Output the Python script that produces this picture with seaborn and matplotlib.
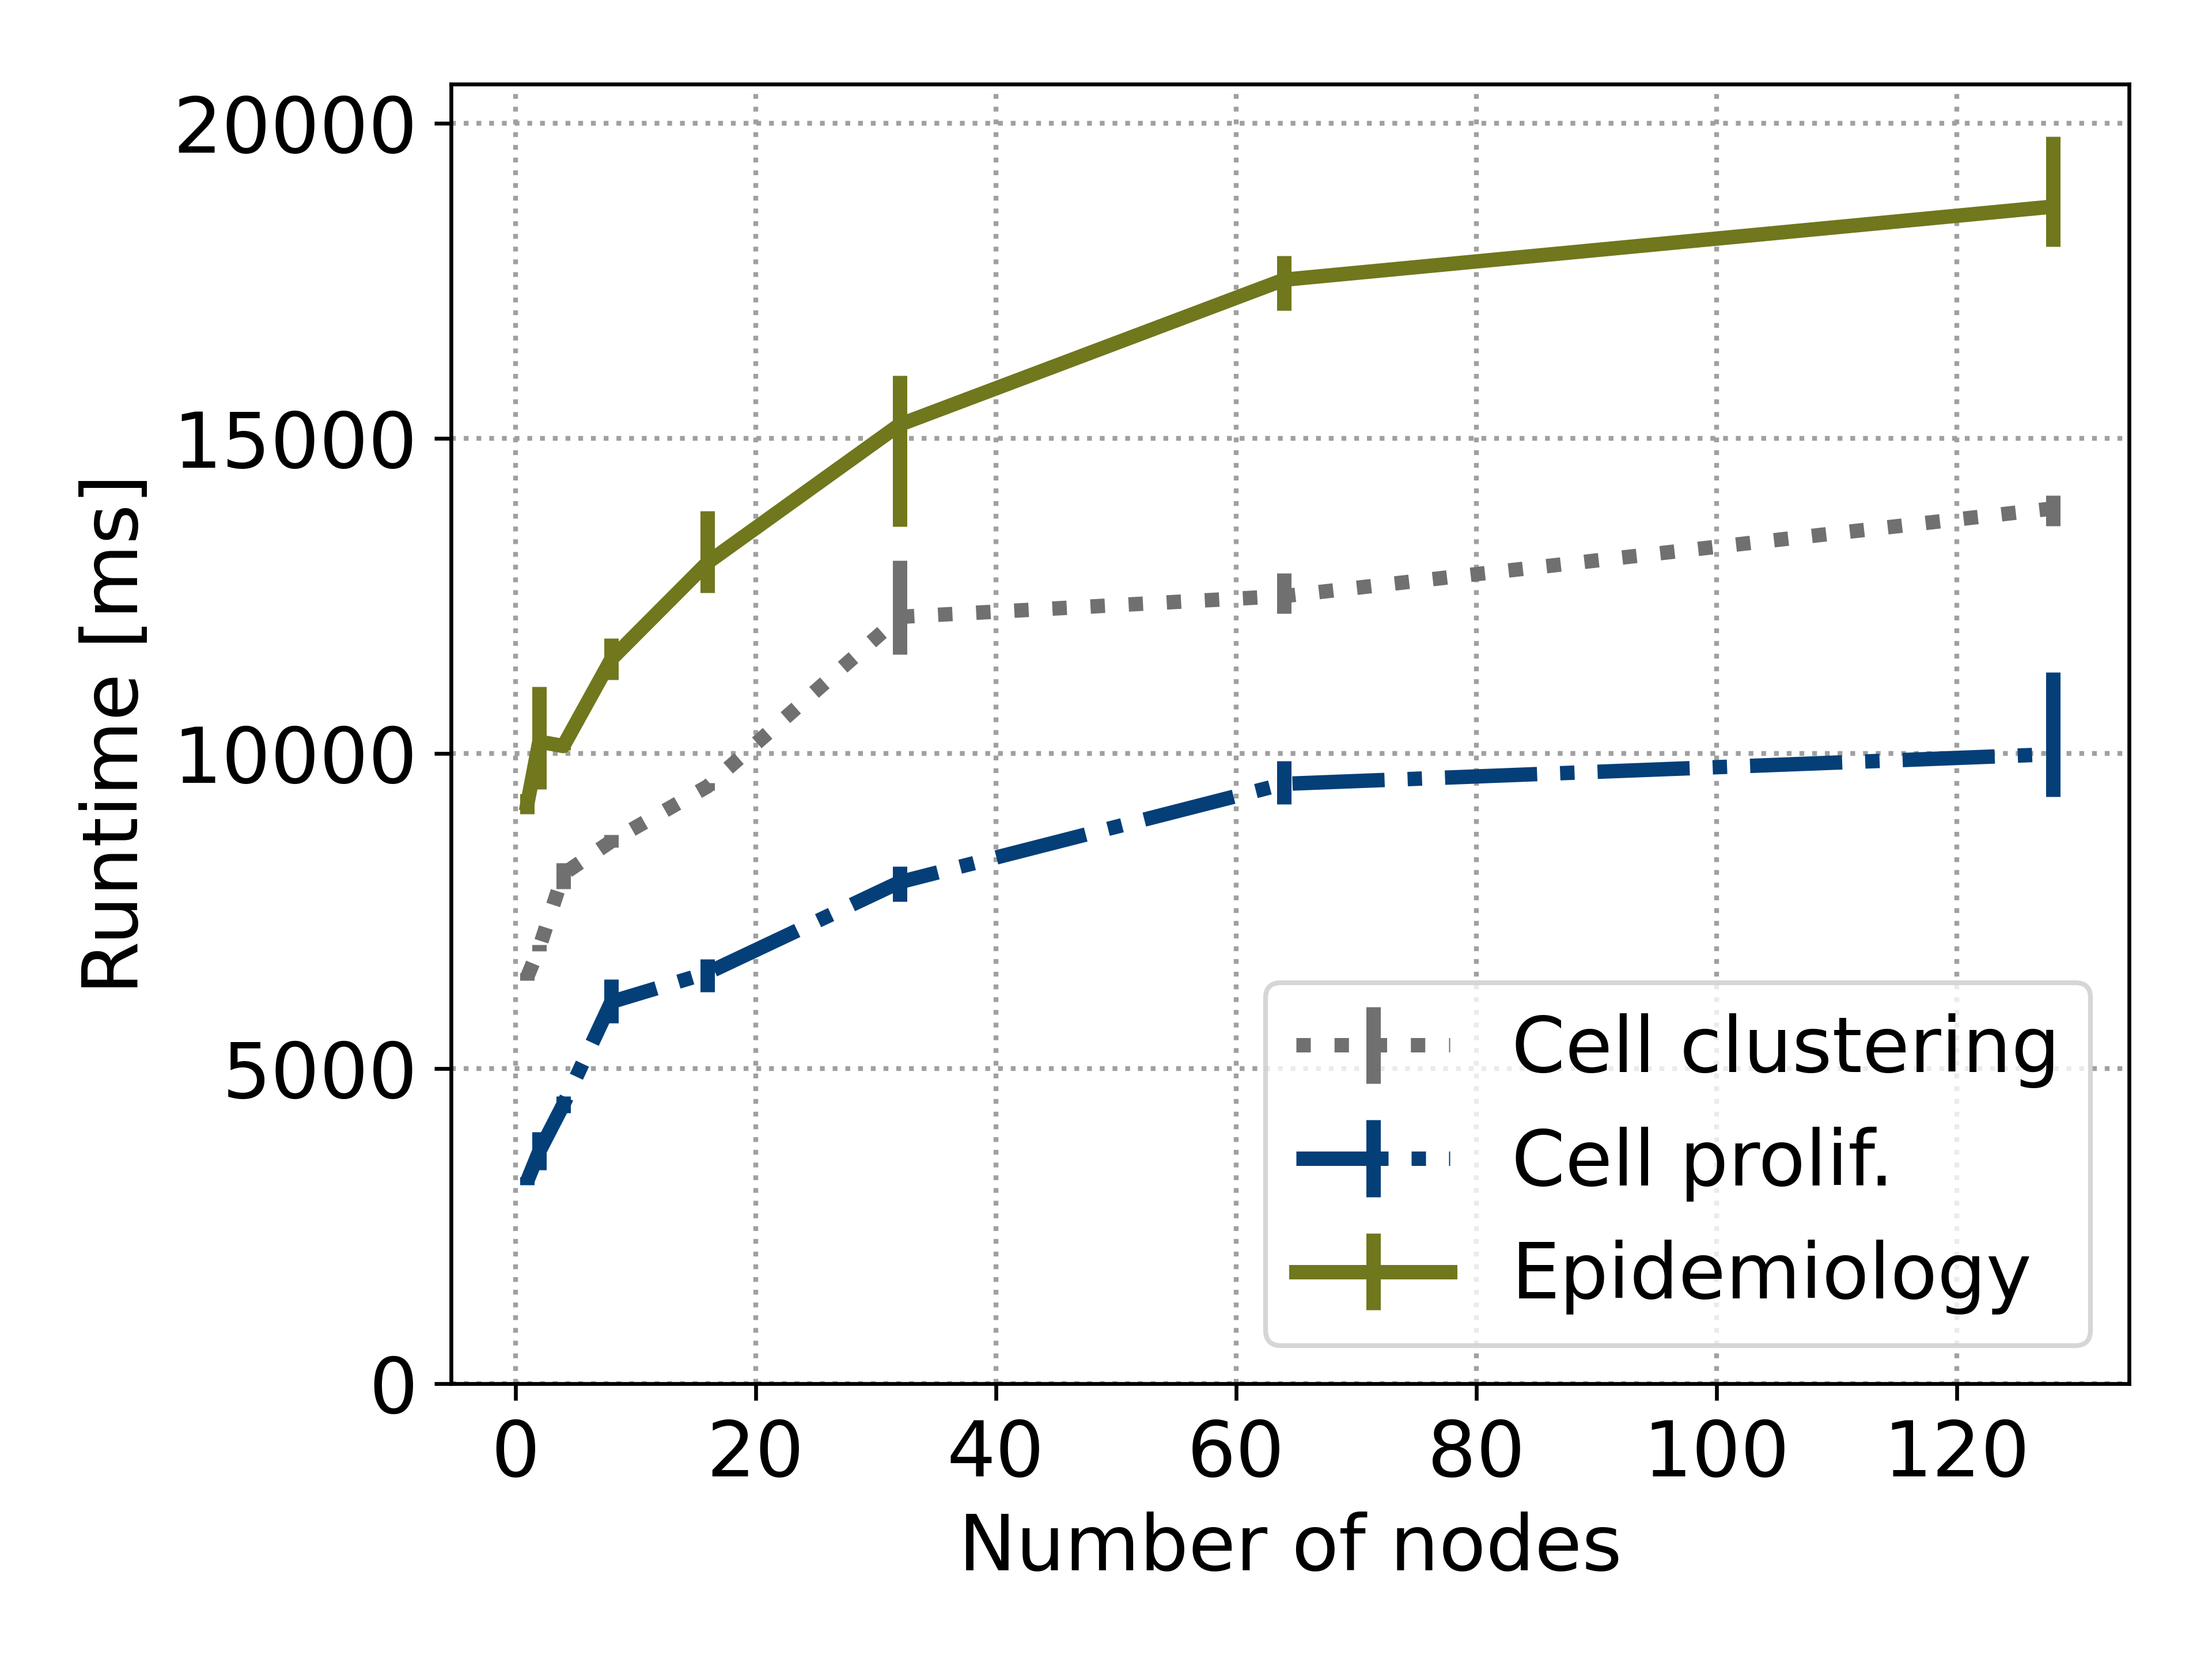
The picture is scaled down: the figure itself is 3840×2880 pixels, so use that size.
import numpy as np
import pandas as pd
import matplotlib
matplotlib.use("Agg")
import matplotlib.pyplot as plt
import seaborn as sns
from matplotlib.container import ErrorbarContainer
from matplotlib.lines import Line2D
from matplotlib.collections import LineCollection

# ---- data ----
nodes = [1, 2, 4, 8, 16, 32, 64, 128]

series_names = ["Cell clustering", "Cell prolif.", "Epidemiology"]

clustering_value = [6460, 6920, 8090, 8610, 9480, 12170, 12500, 13890]
clustering_low = [6400, 6870, 7850, 8510, 9420, 11570, 12220, 13610]
clustering_high = [6520, 6970, 8270, 8710, 9540, 13060, 12860, 14100]

prolif_value = [3220, 3690, 4430, 6060, 6520, 7960, 9520, 9990]
prolif_low = [3160, 3390, 4300, 5720, 6220, 7650, 9195, 9320]
prolif_high = [3280, 4000, 4560, 6420, 6740, 8210, 9880, 11290]

epi_value = [9200, 10190, 10120, 11500, 13030, 15220, 17520, 18680]
epi_low = [9040, 9440, 10060, 11170, 12550, 13600, 17030, 18050]
epi_high = [9360, 11060, 10180, 11830, 13850, 16000, 17900, 19790]

colors = {"Cell clustering": "#707070", "Cell prolif.": "#053F78", "Epidemiology": "#70771D"}
dashes = {"Cell clustering": (1, 1.65), "Cell prolif.": (6.4, 1.6, 1, 1.6), "Epidemiology": ""}

# long table: low / value / high per point; median -> value, 100% interval -> low..high
rows = []
for name, v, lo, hi in [
    ("Cell clustering", clustering_value, clustering_low, clustering_high),
    ("Cell prolif.", prolif_value, prolif_low, prolif_high),
    ("Epidemiology", epi_value, epi_low, epi_high),
]:
    for x, a, b, c in zip(nodes, lo, v, hi):
        for val in (a, b, c):
            rows.append({"nodes": x, "runtime": val, "app": name})
df = pd.DataFrame(rows)

plt.rcParams["font.family"] = ["DejaVu Sans"]
plt.rcParams["font.size"] = 16

fig = plt.figure(figsize=(6.4, 4.8), dpi=600)
ax = fig.add_axes([0.2039, 0.1659, 0.9625 - 0.2039, 0.9492 - 0.1659])

sns.lineplot(
    data=df, x="nodes", y="runtime", hue="app", style="app",
    hue_order=series_names, style_order=series_names,
    palette=colors, dashes=dashes,
    estimator="median", errorbar=("pi", 100), err_style="bars",
    err_kws={"linewidth": 3, "capsize": 0},
    linewidth=3, legend=False, ax=ax,
)
for coll in ax.collections:
    coll.set_capstyle("butt")

ax.set_ylim(bottom=0)
ax.grid(True, linestyle=":", linewidth=1, color="#a0a0a0")
ax.set_xlabel("Number of nodes", fontsize=16)
ax.set_ylabel("Runtime [ms]", fontsize=16)
ax.tick_params(labelsize=16)

handles = []
for name in series_names:
    ls = ":" if name == "Cell clustering" else ("-." if name == "Cell prolif." else "-")
    ln = Line2D([], [], color=colors[name], linestyle=ls, linewidth=3)
    bar = LineCollection([], colors=colors[name], linewidths=3, capstyle="butt")
    cont = ErrorbarContainer((ln, (), (bar,)), has_xerr=False, has_yerr=True, label=name)
    handles.append(cont)
ax.legend(handles=handles, labels=series_names, loc="lower right", fontsize=16)

fig.savefig("out.png", dpi=600)
